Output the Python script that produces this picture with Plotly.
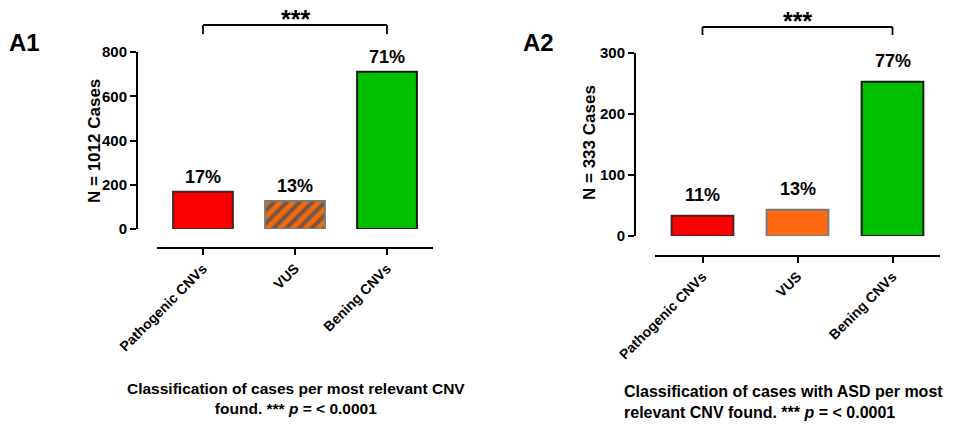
import plotly.graph_objects as go

# ---- data ----
categories = ["Pathogenic CNVs", "VUS", "Bening CNVs"]
a1_values = [168, 127, 711]
a1_labels = ["17%", "13%", "71%"]
a2_values = [33, 43, 253]
a2_labels = ["11%", "13%", "77%"]
a1_yticks = [0, 200, 400, 600, 800]
a2_yticks = [0, 100, 200, 300]

W, H = 956, 425
FONT = "Liberation Sans, Arial, sans-serif"


def px(x):
    return x / W


def py(y):
    return 1 - y / H


fig = go.Figure()

# Panel A1 bars
fig.add_trace(go.Bar(
    x=[categories[0]], y=[a1_values[0]], width=0.65, xaxis="x", yaxis="y",
    marker=dict(color="#ff0000", line=dict(color="#4a2424", width=2),
                pattern=dict(shape=".", fgcolor="#b00000", size=4, solidity=0.2,
                             fillmode="overlay", fgopacity=0.25)),
    showlegend=False))
fig.add_trace(go.Bar(
    x=[categories[1]], y=[a1_values[1]], width=0.65, xaxis="x", yaxis="y",
    marker=dict(color="#f06a10", line=dict(color="#7a7a7a", width=2),
                pattern=dict(shape="/", fgcolor="#6a5448", size=9, solidity=0.45,
                             fillmode="overlay", fgopacity=0.9)),
    showlegend=False))
fig.add_trace(go.Bar(
    x=[categories[2]], y=[a1_values[2]], width=0.65, xaxis="x", yaxis="y",
    marker=dict(color="#00c000", line=dict(color="#1a1a1a", width=2)),
    showlegend=False))

# Panel A2 bars
a2_colors = ["#ff0000", "#ff6a10", "#00c000"]
a2_lines = ["#4a2424", "#7a7a7a", "#1a1a1a"]
fig.add_trace(go.Bar(
    x=categories, y=a2_values, width=0.65, xaxis="x2", yaxis="y2",
    marker=dict(color=a2_colors, line=dict(color=a2_lines, width=2)),
    showlegend=False))

axis_common = dict(showline=True, linecolor="black", linewidth=2, ticks="outside",
                   ticklen=6, tickwidth=2, tickcolor="black", showgrid=False,
                   zeroline=False, anchor="free", fixedrange=True, automargin=False)

fig.update_layout(
    template="none",
    width=W, height=H, autosize=False,
    margin=dict(l=0, r=0, t=0, b=0, pad=0, autoexpand=False),
    paper_bgcolor="white", plot_bgcolor="white",
    font=dict(family=FONT, color="black"),
    showlegend=False,
    xaxis=dict(domain=[px(157), px(433)], range=[-0.5, 2.5], position=py(248),
               type="category", categoryorder="array", categoryarray=categories,
               tickangle=-45, tickfont=dict(size=14, weight="bold", family=FONT),
               **axis_common),
    yaxis=dict(domain=[py(229), py(52)], range=[0, 800], position=px(137),
               tickvals=a1_yticks, tickfont=dict(size=15, weight="bold", family=FONT),
               **axis_common),
    xaxis2=dict(domain=[px(655), px(940)], range=[-0.5, 2.5], position=py(256),
                type="category", categoryorder="array", categoryarray=categories,
                tickangle=-45, tickfont=dict(size=14, weight="bold", family=FONT),
                **axis_common),
    yaxis2=dict(domain=[py(236), py(53)], range=[0, 300], position=px(635),
                tickvals=a2_yticks, tickfont=dict(size=15, weight="bold", family=FONT),
                **axis_common),
)

shapes = []
annotations = []

# significance brackets
for xr, ytop, ybot in [("x", 25, 34), ("x2", 27, 35)]:
    shapes.append(dict(type="line", xref=xr, yref="paper", x0=categories[0], x1=categories[-1],
                       y0=py(ytop), y1=py(ytop), line=dict(color="black", width=1.8)))
    for c in (categories[0], categories[-1]):
        shapes.append(dict(type="line", xref=xr, yref="paper", x0=c, x1=c,
                           y0=py(ytop), y1=py(ybot), line=dict(color="black", width=1.8)))
    annotations.append(dict(xref=xr, yref="paper", x=categories[1], y=py(ytop - 6),
                            xanchor="center", yanchor="middle",
                            text="***", showarrow=False,
                            font=dict(size=25, weight="bold", family=FONT)))

# percentage labels
for c, v, t in zip(categories, a1_values, a1_labels):
    annotations.append(dict(xref="x", yref="y", x=c, y=v, xanchor="center", yanchor="middle",
                            yshift=15, text=t, showarrow=False,
                            font=dict(size=18, weight="bold", family=FONT)))
for c, v, t in zip(categories, a2_values, a2_labels):
    annotations.append(dict(xref="x2", yref="y2", x=c, y=v, xanchor="center", yanchor="middle",
                            yshift=21, text=t, showarrow=False,
                            font=dict(size=18, weight="bold", family=FONT)))

# panel letters
annotations.append(dict(xref="paper", yref="paper", x=px(7), y=py(42), xanchor="left",
                        yanchor="middle", text="A1", showarrow=False,
                        font=dict(size=24, weight="bold", family=FONT)))
annotations.append(dict(xref="paper", yref="paper", x=px(521), y=py(42), xanchor="left",
                        yanchor="middle", text="A2", showarrow=False,
                        font=dict(size=24, weight="bold", family=FONT)))

# y axis titles
annotations.append(dict(xref="paper", yref="paper", x=px(94), y=py(141), textangle=-90,
                        xanchor="center", yanchor="middle",
                        text="N = 1012 Cases", showarrow=False,
                        font=dict(size=17, weight="bold", family=FONT)))
annotations.append(dict(xref="paper", yref="paper", x=px(590), y=py(143), textangle=-90,
                        xanchor="center", yanchor="middle",
                        text="N = 333 Cases", showarrow=False,
                        font=dict(size=17, weight="bold", family=FONT)))

# captions
annotations.append(dict(xref="paper", yref="paper", x=px(296), y=py(398), xanchor="center",
                        yanchor="middle", align="center",
                        text="Classification of cases per most relevant CNV<br>found. *** <i>p</i> = &lt; 0.0001",
                        showarrow=False, font=dict(size=15.5, weight="bold", family=FONT)))
annotations.append(dict(xref="paper", yref="paper", x=px(622), y=py(402), xanchor="left",
                        yanchor="middle", align="left",
                        text="Classification of cases with ASD per most<br>relevant CNV found. *** <i>p</i> = &lt; 0.0001",
                        showarrow=False, font=dict(size=16, weight="bold", family=FONT)))

fig.update_layout(shapes=shapes, annotations=annotations)

fig.write_html(
    "out.html",
    config={"displayModeBar": False},
    post_script="document.body.style.margin='0';document.body.style.overflow='hidden';",
)
